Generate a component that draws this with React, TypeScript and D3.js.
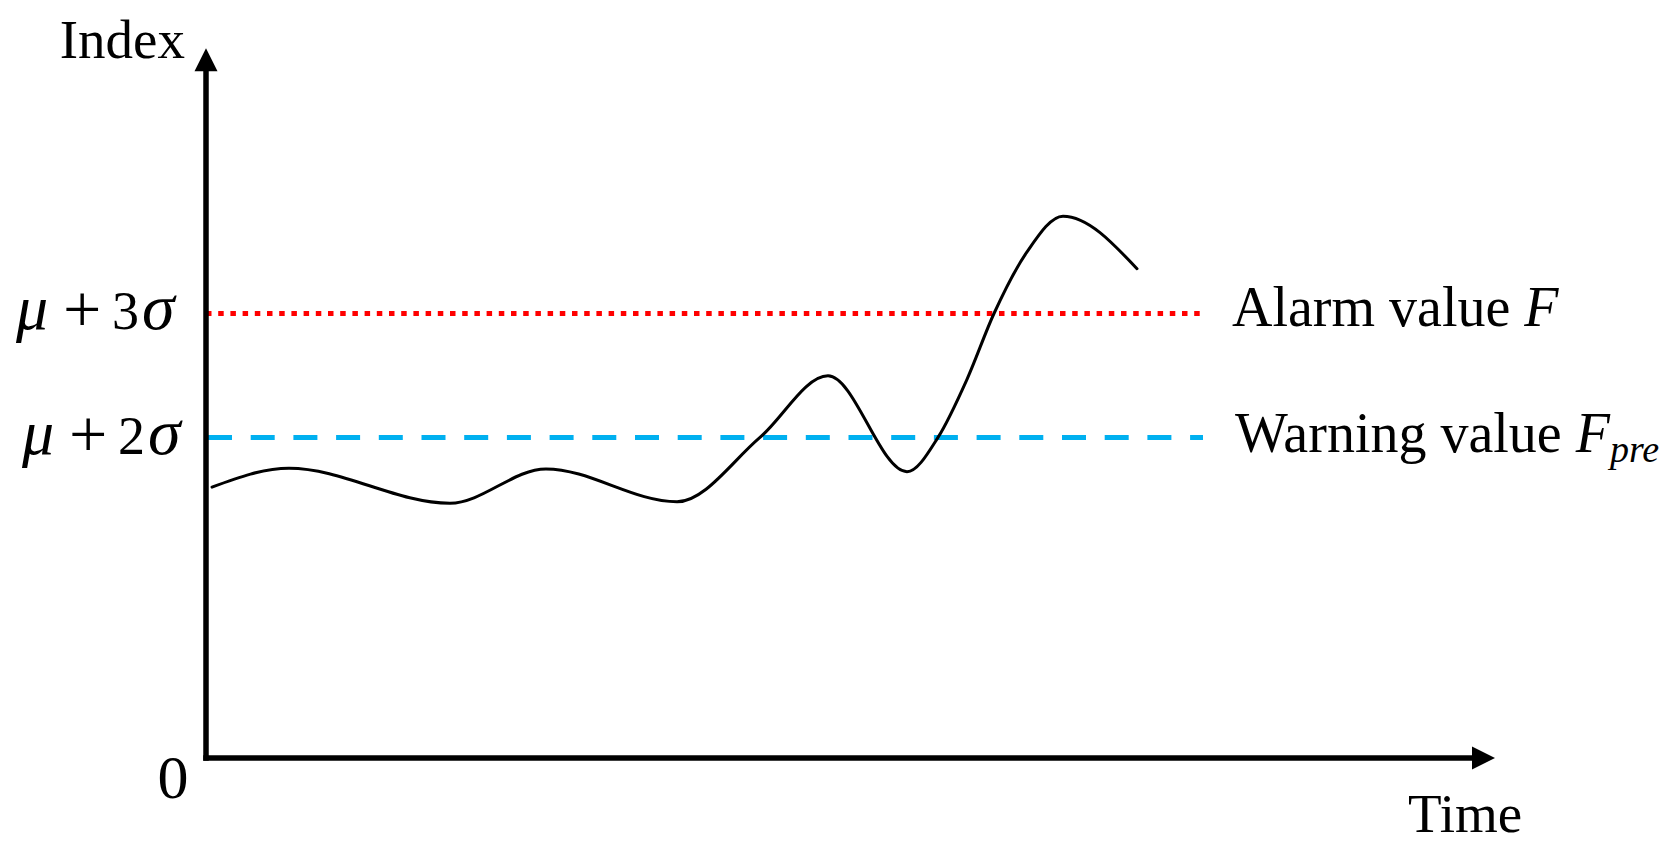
import React from "react";
import * as d3 from "d3";

// ---- data (index units vs. time units) ----
const timeValues = [0.6, 8.3, 24.4, 34.0, 47.1, 55.4, 62.2, 70.1, 73.2, 76.1, 78.8, 82.1, 85.7, 93.1];
const indexValues = [38.7, 41.4, 36.4, 41.3, 36.6, 45.8, 54.6, 40.9, 45.8, 54.1, 63.5, 72.3, 77.4, 69.9];
const alarmValue = 63.5; // mu + 3 sigma
const warningValue = 45.8; // mu + 2 sigma
const thresholdEnd = 99.7;
const xAxisEnd = 128.9;
const yAxisEnd = 101.4;
const xLabel = "Time";
const yLabel = "Index";
const zeroLabel = "0";

const W = 1670;
const H = 859;
const FONT = '"Liberation Serif", "Times New Roman", serif';

function SigmaLabel({ x0, y, k }: { x0: number; y: number; k: string }) {
  return (
    <g fontFamily={FONT} fill="#000">
      <text x={x0} y={y} fontStyle="italic" fontSize={64}>
        μ
      </text>
      <text x={x0 + 47} y={y + 3} fontSize={68}>
        +
      </text>
      <text x={x0 + 96} y={y} fontSize={54}>
        {k}
      </text>
      <text x={x0 + 126} y={y} fontStyle="italic" fontSize={66}>
        σ
      </text>
    </g>
  );
}

export default function App() {
  const x = d3.scaleLinear().domain([0, 100]).range([206, 1206]);
  const y = d3.scaleLinear().domain([0, 100]).range([758, 58]);

  const pts: [number, number][] = timeValues.map((t, i) => [t, indexValues[i]]);
  const line = d3
    .line<[number, number]>()
    .x((d) => x(d[0]))
    .y((d) => y(d[1]))
    .curve(d3.curveMonotoneX);

  const x0 = x(0);
  const y0 = y(0);
  const xTip = x(xAxisEnd);
  const yTip = y(yAxisEnd);
  const ah = 23; // arrow length
  const aw = 11.5; // arrow half width

  return (
    <svg
      width={W}
      height={H}
      style={{ position: "absolute", left: 0, top: 0, display: "block", background: "#fff" }}
    >
      <rect x={0} y={0} width={W} height={H} fill="#fff" />

      {/* threshold lines */}
      <line
        x1={x0}
        x2={x(thresholdEnd)}
        y1={y(alarmValue)}
        y2={y(alarmValue)}
        stroke="#FF0000"
        strokeWidth={5}
        strokeDasharray="5.5 6.7"
      />
      <line
        x1={x0 + 2}
        x2={x(thresholdEnd)}
        y1={y(warningValue)}
        y2={y(warningValue)}
        stroke="#00B0F0"
        strokeWidth={5}
        strokeDasharray="24 18.7"
      />

      {/* curve */}
      <path d={line(pts) || ""} fill="none" stroke="#000" strokeWidth={3} strokeLinecap="round" />

      {/* axes */}
      <line x1={x0} x2={x0} y1={y0 + 2.75} y2={yTip + ah - 2} stroke="#000" strokeWidth={5.5} />
      <line x1={x0 - 2.75} x2={xTip - ah + 2} y1={y0} y2={y0} stroke="#000" strokeWidth={5.5} />
      <path d={`M${x0},${yTip} L${x0 - aw},${yTip + ah} L${x0 + aw},${yTip + ah} Z`} fill="#000" />
      <path d={`M${xTip},${y0} L${xTip - ah},${y0 - aw} L${xTip - ah},${y0 + aw} Z`} fill="#000" />

      {/* axis labels */}
      <text x={185} y={58} textAnchor="end" fontFamily={FONT} fontSize={55} fill="#000">
        {yLabel}
      </text>
      <text x={1408} y={832} fontFamily={FONT} fontSize={55} fill="#000">
        {xLabel}
      </text>
      <text x={173} y={798} textAnchor="middle" fontFamily={FONT} fontSize={62} fill="#000">
        {zeroLabel}
      </text>

      {/* threshold labels on y axis */}
      <SigmaLabel x0={16} y={y(alarmValue) + 15} k="3" />
      <SigmaLabel x0={22} y={y(warningValue) + 17} k="2" />

      {/* threshold labels on right */}
      <text x={1232} y={y(alarmValue) + 12} fontFamily={FONT} fontSize={56} fill="#000">
        Alarm value <tspan fontStyle="italic">F</tspan>
      </text>
      <text x={1235} y={y(warningValue) + 15} fontFamily={FONT} fontSize={56} fill="#000">
        Warning value <tspan fontStyle="italic">F</tspan>
        <tspan fontStyle="italic" fontSize={38} dy={10}>
          pre
        </tspan>
      </text>
    </svg>
  );
}
